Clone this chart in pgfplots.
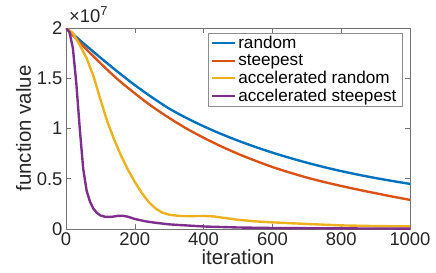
\documentclass[border=0pt]{standalone}
\usepackage{pgfplots}
\pgfplotsset{compat=1.18}
\usepackage{fontspec}
\setmainfont{Liberation Sans}
\definecolor{mblue}{rgb}{0,0.447,0.741}
\definecolor{mred}{rgb}{0.85,0.325,0.098}
\definecolor{myellow}{rgb}{0.929,0.694,0.125}
\definecolor{mpurple}{rgb}{0.494,0.184,0.556}
\newcommand\tickfont{\fontsize{18.5}{21}\selectfont}
\newcommand\supfont{\fontsize{13}{14}\selectfont}
\begin{document}
\begin{tikzpicture}
\begin{axis}[
  scale only axis,
  clip mode=individual,
  width=344bp, height=201bp,
  xmin=0, xmax=1000, ymin=0, ymax=2,
  xtick={0,200,400,600,800,1000},
  ytick={0,0.5,1,1.5,2},
  yticklabels={0,0.5,1,1.5,2},
  scaled ticks=false,
  /pgf/number format/1000 sep={},
  tick align=inside,
  major tick length=5bp,
  axis line style={black!55, line width=0.6pt},
  tick style={black!55, line width=0.6pt},
  /pgf/number format/assume math mode=true,
  ticklabel style={font=\tickfont, text=black!85},
  xlabel={iteration},
  ylabel={function value},
  label style={font=\fontsize{20.5}{23}\selectfont, text=black!85},
  xlabel style={yshift=3bp},
  ylabel style={yshift=-1bp},
  legend style={at={(0.977,0.975)}, anchor=north east, draw=black!45,
    font=\fontsize{17.2}{18}\selectfont, inner xsep=3.5pt, inner ysep=1.2pt, row sep=0bp,
    cells={anchor=west}, text=black},
  legend image code/.code={\draw[#1, line width=2pt] (0bp,0bp) -- (23bp,0bp);},
  every axis plot/.append style={line width=2.4pt},
]
\addplot[mblue, smooth] coordinates {
(0,2.0) (50,1.85) (100,1.705) (150,1.565) (200,1.432) (250,1.31) (300,1.198)
(350,1.105) (400,1.022) (450,0.947) (500,0.879) (550,0.817) (600,0.76) (650,0.708)
(700,0.66) (750,0.616) (800,0.576) (850,0.54) (900,0.507) (950,0.477) (1000,0.449)};
\addlegendentry{random}
\addplot[mred, smooth] coordinates {
(0,2.0) (50,1.82) (100,1.65) (150,1.49) (200,1.35) (250,1.22) (300,1.105)
(350,1.0) (400,0.908) (450,0.824) (500,0.748) (550,0.68) (600,0.617) (650,0.562)
(700,0.512) (750,0.468) (800,0.428) (850,0.391) (900,0.356) (950,0.322) (1000,0.29)};
\addlegendentry{steepest}
\addplot[myellow] coordinates {
(0,2.0) (20,1.95) (40,1.83) (60,1.70) (80,1.52) (100,1.29) (120,1.07)
(140,0.89) (160,0.73) (180,0.59) (200,0.47) (220,0.36) (240,0.27) (260,0.205)
(280,0.163) (300,0.142) (330,0.13) (360,0.128) (400,0.13) (430,0.125)
(460,0.11) (500,0.092) (550,0.076) (600,0.066) (700,0.05) (800,0.036)
(900,0.029) (1000,0.026)};
\addlegendentry{accelerated random}
\addplot[mpurple] coordinates {
(0,2.0) (10,1.96) (20,1.8) (30,1.45) (40,1.0) (50,0.6) (60,0.38) (70,0.27)
(80,0.2) (90,0.16) (100,0.135) (115,0.12) (130,0.12) (150,0.13) (165,0.132)
(180,0.122) (200,0.1) (230,0.077) (260,0.062) (300,0.046) (400,0.025)
(500,0.015) (600,0.01) (800,0.006) (1000,0.004)};
\addlegendentry{accelerated steepest}
\node[anchor=south west, inner sep=0pt, text=black!85]
  at ([shift={(3bp,5bp)}]rel axis cs:0,1) {\tickfont ×10\raisebox{7bp}{\supfont 7}};
\coordinate (bl) at (rel axis cs:0,0);
\coordinate (tr) at (rel axis cs:1,1);
\end{axis}
\pgfresetboundingbox
\path ([shift={(-66bp,-44bp)}]bl) rectangle ([shift={(26bp,28bp)}]tr);
\end{tikzpicture}
\end{document}
